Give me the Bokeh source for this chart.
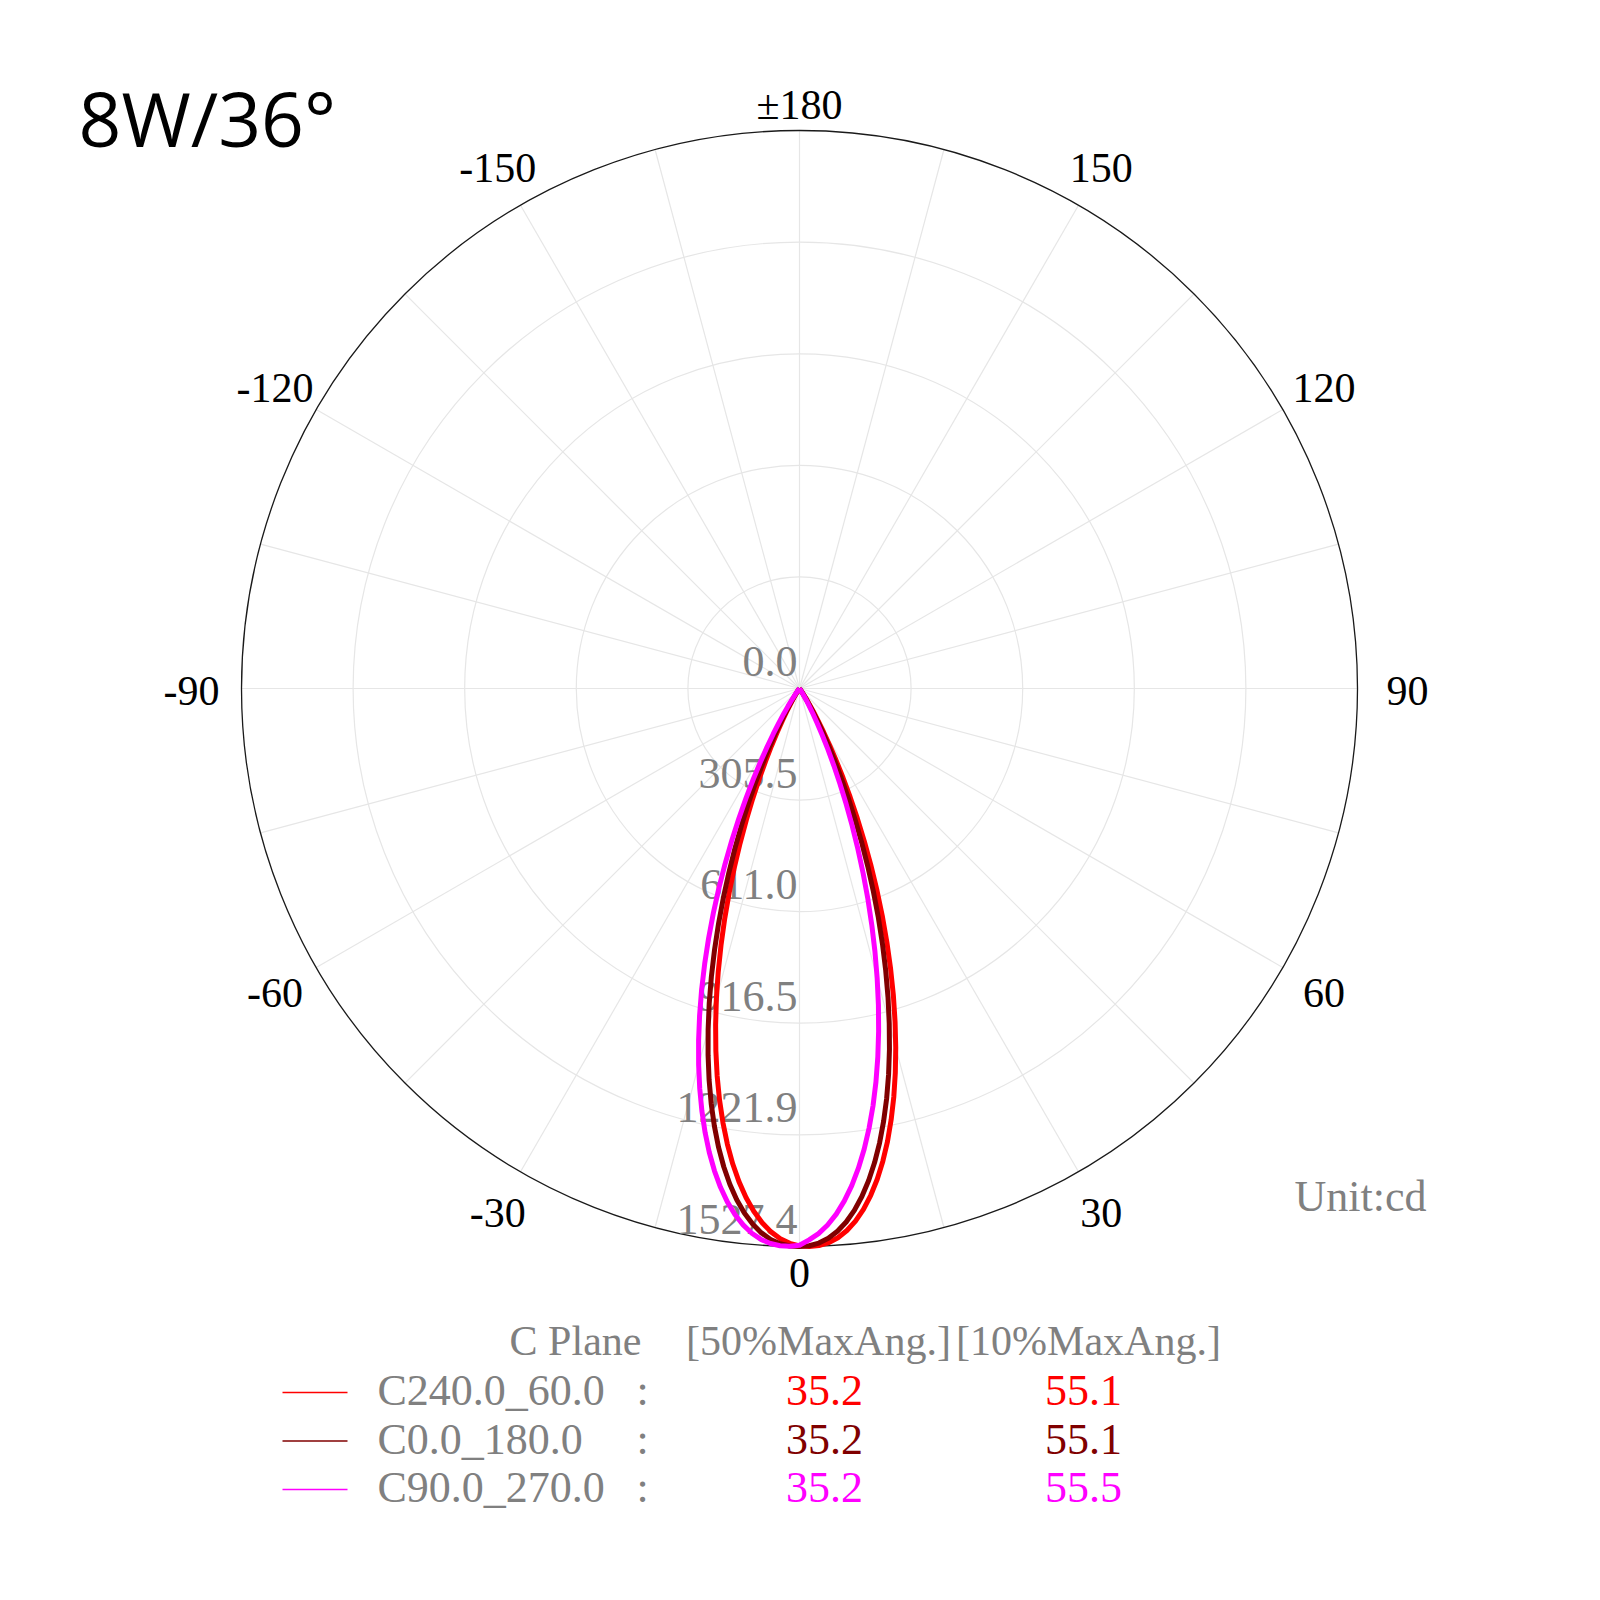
import numpy as np
from bokeh.plotting import figure
from bokeh.models import Range1d
from bokeh.embed import file_html
from bokeh.resources import INLINE
from bokeh.core.properties import value

# ---------------- data ----------------
title_text = "8W/36°"
ring_values = [0.0, 305.5, 611.0, 916.5, 1221.9, 1527.4]
ring_labels = ["0.0", "305.5", "611.0", "916.5", "1221.9", "1527.4"]
angle_ticks = [0, 30, 60, 90, 120, 150, 180, -150, -120, -90, -60, -30]
angle_tick_labels = ["0", "30", "60", "90", "120", "150", "±180",
                     "-150", "-120", "-90", "-60", "-30"]
unit_text = "Unit:cd"

gamma = list(range(0, 46)) + [50, 60, 70, 80, 90]

# C240.0_60.0 (red): right half (C60) / left half (C240), cd
c60 = [1525.6, 1527.4, 1525.6, 1519.0, 1507.1, 1489.4, 1465.8, 1436.3, 1400.9, 1360.0,
       1313.8, 1262.7, 1206.7, 1147.4, 1084.1, 1017.8, 949.1, 879.0, 807.1, 734.8,
       662.6, 591.3, 521.4, 453.8, 389.2, 328.3, 271.9, 220.6, 175.0, 135.1,
       101.3, 73.5, 51.4, 34.5, 22.1, 13.5, 7.8, 4.2, 2.1, 1.0,
       0.4, 0.2, 0.1, 0, 0, 0, 0, 0, 0, 0, 0]
c240 = [1525.6, 1519.0, 1507.1, 1489.4, 1465.8, 1436.3, 1400.9, 1360.0, 1313.8, 1262.7,
        1206.7, 1147.4, 1084.1, 1017.8, 949.1, 879.0, 807.1, 734.8, 662.6, 591.3,
        521.4, 453.8, 389.2, 328.3, 271.9, 220.6, 175.0, 135.1, 101.3, 73.5,
        51.4, 34.5, 22.1, 13.5, 7.8, 4.2, 2.1, 1.0, 0.4, 0.2,
        0.1, 0, 0, 0, 0, 0, 0, 0, 0, 0, 0]
# C0.0_180.0 (maroon): right half (C0) / left half (C180)
c0 = [1527.4, 1525.6, 1519.0, 1507.1, 1489.4, 1465.8, 1436.3, 1400.9, 1360.0, 1313.8,
      1262.7, 1206.7, 1147.4, 1084.1, 1017.8, 949.1, 879.0, 807.1, 734.8, 662.6,
      591.3, 521.4, 453.8, 389.2, 328.3, 271.9, 220.6, 175.0, 135.1, 101.3,
      73.5, 51.4, 34.5, 22.1, 13.5, 7.8, 4.2, 2.1, 1.0, 0.4,
      0.2, 0.1, 0, 0, 0, 0, 0, 0, 0, 0, 0]
c180 = [1527.4, 1526.1, 1520.7, 1510.1, 1493.8, 1471.7, 1443.7, 1409.8, 1370.2, 1325.4,
        1275.5, 1220.7, 1162.2, 1099.9, 1034.4, 966.3, 896.5, 825.1, 752.9, 680.7,
        609.1, 538.9, 470.7, 405.4, 343.5, 286.0, 233.4, 186.4, 145.1, 109.8,
        80.5, 56.9, 38.7, 25.2, 15.7, 9.2, 5.1, 2.6, 1.3, 0.6,
        0.3, 0.1, 0, 0, 0, 0, 0, 0, 0, 0, 0]
# C90.0_270.0 (magenta): right half (C90) / left half (C270)
c90 = [1520.3, 1509.5, 1492.9, 1470.5, 1442.2, 1408.0, 1368.2, 1323.0, 1272.9, 1217.9,
       1159.3, 1096.8, 1031.1, 962.8, 893.0, 821.5, 749.3, 677.0, 605.6, 535.4,
       467.3, 402.1, 340.5, 283.2, 230.9, 184.1, 143.1, 108.1, 79.1, 55.8,
       37.9, 24.6, 15.2, 8.9, 4.9, 2.5, 1.2, 0.5, 0.2, 0.1,
       0, 0, 0, 0, 0, 0, 0, 0, 0, 0, 0]
c270 = [1523.9, 1526.9, 1526.2, 1521.3, 1511.7, 1496.8, 1476.4, 1450.5, 1419.1, 1382.3,
        1340.5, 1293.9, 1242.7, 1187.4, 1128.8, 1066.7, 1002.0, 935.2, 867.1, 797.4,
        727.4, 657.6, 588.6, 521.0, 455.6, 392.9, 333.8, 278.8, 228.5, 183.5,
        143.8, 109.7, 81.3, 58.3, 40.3, 26.8, 17.0, 10.3, 5.9, 3.2,
        1.6, 0.7, 0.3, 0.2, 0.1, 0, 0, 0, 0, 0, 0]

series_names = ["C240.0_60.0", "C0.0_180.0", "C90.0_270.0"]
series_colors = ["#ff0000", "#800000", "#ff00ff"]
series_right = [c60, c0, c90]
series_left = [c240, c180, c270]
half_max_angle = ["35.2", "35.2", "35.2"]
tenth_max_angle = ["55.1", "55.1", "55.5"]
legend_header = ["C Plane", "[50%MaxAng.]", "[10%MaxAng.]"]

# ---------------- layout helpers ----------------
W = H = 1584
CX, CY = 799.0, 688.0          # page pixel of polar centre
RPX = 558.0                    # page pixels of outer ring
RMAX = ring_values[-1]
S = RMAX / RPX                 # data units per pixel


def P(px, py):
    return (px - CX) * S, (CY - py) * S


p = figure(width=W, height=H, output_backend="svg", toolbar_location=None,
           x_axis_type=None, y_axis_type=None, min_border=0,
           x_range=Range1d(-CX * S, (W - CX) * S),
           y_range=Range1d((CY - H) * S, CY * S))
p.outline_line_color = None
p.background_fill_color = "white"
p.border_fill_color = "white"

GRID = "#e6e6e6"
GRAY = "#808080"
SERIF = value("Liberation Serif")

# rings
p.circle(x=[0] * 4, y=[0] * 4, radius=ring_values[1:5], fill_color=None,
         line_color=GRID, line_width=1.2)
# spokes every 15 degrees
sp = np.radians(np.arange(-180, 180, 15))
p.segment(x0=0, y0=0, x1=RMAX * np.sin(sp), y1=-RMAX * np.cos(sp),
          line_color=GRID, line_width=1.2)
# outer circle
p.circle(x=[0], y=[0], radius=[RMAX], fill_color=None, line_color="#1a1a1a",
         line_width=1.3)

# ring labels (just above each ring on the downward axis)
rx, _ = P(797, 0)
p.text(x=[rx] * len(ring_values), y=[-v + 27 * S for v in ring_values],
       text=ring_labels, text_font=SERIF, text_font_size="44px",
       text_color=GRAY, text_align="right", text_baseline="middle")

# angle labels
th = np.radians(angle_ticks)
s1, s2 = np.abs(np.sin(th)), np.abs(np.sin(2 * th))
rl = (586 + 22 * s1 + 12 * s2 * np.abs(np.cos(th)) - 6 * s2 * s1
      - np.where(np.cos(th) > 0.99, 4, 0)) * S
p.text(x=rl * np.sin(th), y=-rl * np.cos(th) - 2 * S, text=angle_tick_labels,
       text_font=SERIF, text_font_size="42px", text_color="black",
       text_align="center", text_baseline="middle")

# unit
ux, uy = P(1360, 1196)
p.text(x=[ux], y=[uy], text=[unit_text], text_font=SERIF, text_font_size="44px",
       text_color=GRAY, text_align="center", text_baseline="middle")

# curves
g = np.array(gamma, dtype=float)
for right, left, col in zip(series_right, series_left, series_colors):
    ang = np.concatenate([-g[::-1], g[1:]])
    inten = np.concatenate([np.array(left, float)[::-1], np.array(right, float)[1:]])
    a = np.radians(ang)
    p.line(x=inten * np.sin(a), y=-inten * np.cos(a), line_color=col,
           line_width=5, line_join="round")

# title
tx, ty = P(78, 117)
p.text(x=[tx], y=[ty], text=[title_text], text_font=value("Open Sans"),
       text_font_size="75px", text_color="black", text_align="left",
       text_baseline="middle")

# legend
hy = 1340
row_y = [1390, 1438.5, 1487]
head_x = [575, 818, 1088]
val_x = [824, 1083]
for cx_, t in zip(head_x, legend_header):
    x_, y_ = P(cx_, hy)
    p.text(x=[x_], y=[y_], text=[t], text_font=SERIF, text_font_size="42px",
           text_color=GRAY, text_align="center", text_baseline="middle")
for i, ry in enumerate(row_y):
    col = series_colors[i]
    x0, y0 = P(282, ry + 2)
    x1, _ = P(347, ry + 2)
    p.line(x=[x0, x1], y=[y0, y0], line_color=col, line_width=1.5)
    lx, ly = P(377, ry)
    p.text(x=[lx], y=[ly], text=[series_names[i]], text_font=SERIF,
           text_font_size="44px", text_color=GRAY, text_align="left",
           text_baseline="middle")
    cx2, _ = P(642, ry)
    p.text(x=[cx2], y=[ly], text=[":"], text_font=SERIF, text_font_size="44px",
           text_color=GRAY, text_align="center", text_baseline="middle")
    vx, _ = P(val_x[0], ry)
    p.text(x=[vx], y=[ly], text=[half_max_angle[i]], text_font=SERIF,
           text_font_size="44px", text_color=col, text_align="center",
           text_baseline="middle")
    vx2, _ = P(val_x[1], ry)
    p.text(x=[vx2], y=[ly], text=[tenth_max_angle[i]], text_font=SERIF,
           text_font_size="44px", text_color=col, text_align="center",
           text_baseline="middle")

open("out.html", "w").write(file_html(p, INLINE))
